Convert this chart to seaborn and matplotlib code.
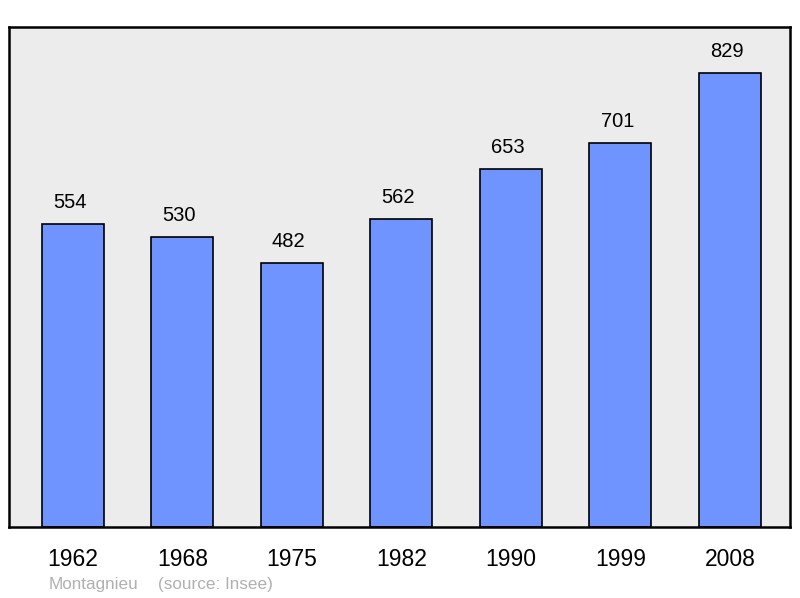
import seaborn as sns
import matplotlib.pyplot as plt
import pandas as pd

years = ["1962", "1968", "1975", "1982", "1990", "1999", "2008"]
population = [554, 530, 482, 562, 653, 701, 829]
town = "Montagnieu"
source = "(source: Insee)"

df = pd.DataFrame({"year": years, "population": population})

sns.set_style("white")
plt.rcParams['font.family'] = ['Liberation Sans', 'DejaVu Sans']
plt.rcParams['text.color'] = 'black'
plt.rcParams['xtick.color'] = 'black'

fig = plt.figure(figsize=(8, 5.98), dpi=100)
ax = fig.add_axes([9 / 800, 71 / 598, 781 / 800, 500 / 598])
ax.set_facecolor("#ececec")

sns.barplot(data=df, x="year", y="population", color="#7094ff", saturation=1,
            width=0.566, edgecolor="black", linewidth=1.2, ax=ax)

# value labels above bars
for i, v in enumerate(population):
    ax.text(i - 0.03, v + 22, str(v), ha="center", va="bottom", fontsize=14.5,
            color="black")

ax.set_xlim(-0.584, 6.548)
ax.set_ylim(0, 913)
ax.set_yticks([])
ax.set_xlabel("")
ax.set_ylabel("")
ax.tick_params(axis="x", length=0, pad=15, labelsize=16.5, labelcolor="black")
for s in ax.spines.values():
    s.set_linewidth(1.8)
    s.set_color("black")

fig.text(49 / 800, 1 - 584 / 598, town, color="#b0b0b0", fontsize=12.3, va="center")
fig.text(158 / 800, 1 - 584 / 598, source, color="#b0b0b0", fontsize=12.3, va="center")

fig.savefig("out.png", dpi=100)
